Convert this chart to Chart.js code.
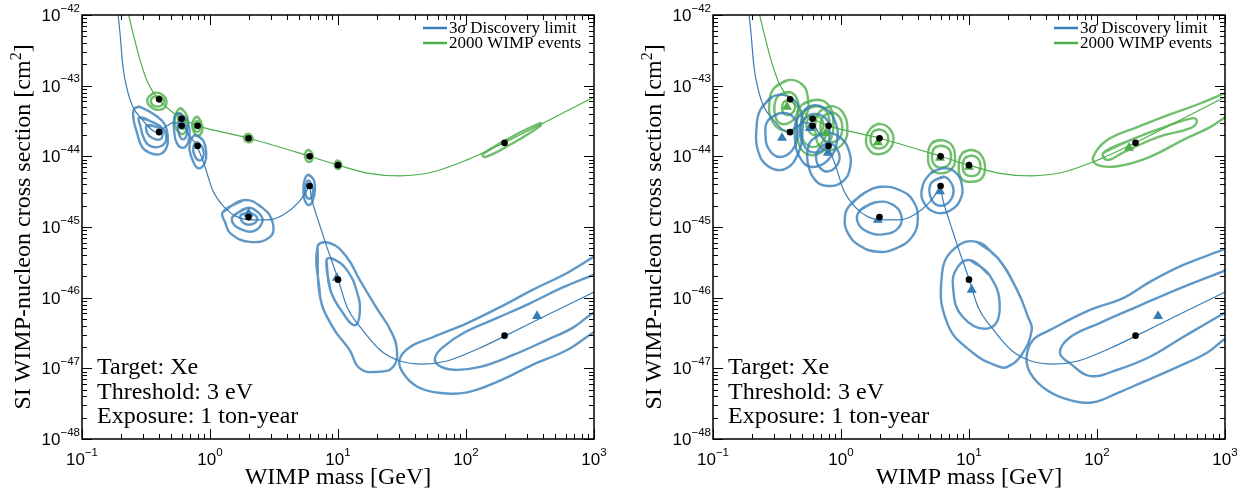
<!DOCTYPE html>
<html>
<head>
<meta charset="utf-8">
<script src="https://cdn.jsdelivr.net/npm/chart.js@4.4.1/dist/chart.umd.min.js"></script>
<style>
  html, body { margin: 0; padding: 0; background: #fff; }
  #wrap { position: relative; width: 1251px; height: 493px; }
  canvas { position: absolute; top: 0; }
</style>
</head>
<body>
<div id="wrap">
  <canvas id="left" width="631" height="493" style="left:0"></canvas>
  <canvas id="right" width="620" height="493" style="left:631px"></canvas>
</div>
<script>
const BLUE = '#377eb8'
const GREEN = '#4daf4a'
const BLUE_C = 'rgba(55, 126, 184, 0.8)'
const GREEN_C = 'rgba(77, 175, 74, 0.8)'

// axis decades
const xTickExps = [-1, 0, 1, 2, 3]
const yTickExps = [-48, -47, -46, -45, -44, -43, -42]

// 3 sigma discovery limit (GeV, cm^2)
const limitMass = [0.18, 0.198, 0.209, 0.229, 0.25, 0.284, 0.386, 0.461, 0.514, 0.604, 0.686, 0.79, 0.914, 1.05, 1.31, 1.63, 2.13, 2.79, 3.72, 4.87, 5.72, 5.95, 6.26, 6.98, 8.2, 10, 11.75, 14.9, 21.3, 30.5, 46, 71, 128, 202, 430, 1000]
const limitSigma = [3e-42, 5.6e-43, 1.84e-43, 7.9e-44, 5.0e-44, 3.6e-44, 2.2e-44, 2.7e-44, 3.0e-44, 2.8e-44, 2.0e-44, 1.4e-44, 7.1e-45, 3.3e-45, 1.86e-45, 1.39e-45, 1.26e-45, 1.26e-45, 1.48e-45, 2.19e-45, 3.3e-45, 3.8e-45, 2.4e-45, 1.26e-45, 5.2e-46, 1.84e-46, 7.4e-47, 3.85e-47, 1.82e-47, 1.27e-47, 1.15e-47, 1.27e-47, 1.94e-47, 2.88e-47, 5.7e-47, 1.2e-46]

// 2000 WIMP events
const eventsMass = [0.2, 0.25, 0.284, 0.328, 0.393, 0.487, 0.604, 0.698, 0.806, 1.98, 5.93, 10, 16.9, 30.5, 55, 102, 198, 379, 1000]
const eventsSigma = [3e-42, 5.6e-43, 2.3e-43, 1.09e-43, 6.5e-44, 4.5e-44, 3.4e-44, 3.0e-44, 2.7e-44, 1.82e-44, 1.01e-44, 7.5e-45, 5.8e-45, 5.3e-45, 6.0e-45, 8.9e-45, 1.55e-44, 2.8e-44, 6.9e-44]

// benchmark points (black dots)
const dotMass = [0.4, 0.6, 0.8, 2, 6, 10, 200]
const limitDotSigma = [2.2e-44, 2.7e-44, 1.4e-44, 1.38e-45, 3.8e-45, 1.8e-46, 2.9e-47]
const eventsDotSigma = [6.4e-44, 3.4e-44, 2.7e-44, 1.8e-44, 1.0e-44, 7.5e-45, 1.55e-44]

// best fit points (triangles)
const leftBlueTriMass = [2.0, 9.8, 359]
const leftBlueTriSigma = [1.55e-45, 1.9e-46, 5.5e-47]
const rightBlueTriMass = [0.346, 0.57, 0.79, 1.94, 5.93, 10.5, 300]
const rightBlueTriSigma = [1.82e-44, 2.5e-44, 1.12e-44, 1.26e-45, 3.2e-45, 1.29e-46, 5.5e-47]
const rightGreenTriMass = [0.378, 0.58, 0.76, 1.94, 5.93, 10, 178]
const rightGreenTriSigma = [5.0e-44, 2.6e-44, 2.14e-44, 1.58e-44, 9.5e-45, 7.1e-45, 1.32e-44]

// contour outlines, vertices as [log10 mass, log10 sigma]
const leftBlueLoops = [
  [[-0.59,-43.32],[-0.55,-43.30],[-0.41,-43.44],[-0.35,-43.56],[-0.33,-43.73],[-0.34,-43.88],[-0.39,-43.97],[-0.47,-43.95],[-0.53,-43.87],[-0.57,-43.67],[-0.60,-43.44]],
  [[-0.55,-43.45],[-0.41,-43.55],[-0.35,-43.66],[-0.35,-43.80],[-0.41,-43.87],[-0.48,-43.84],[-0.52,-43.73],[-0.54,-43.60]],
  [[-0.49,-43.56],[-0.39,-43.60],[-0.37,-43.68],[-0.39,-43.76],[-0.45,-43.74],[-0.49,-43.67]],
  [[-0.25,-43.39],[-0.19,-43.46],[-0.16,-43.63],[-0.17,-43.80],[-0.21,-43.88],[-0.26,-43.81],[-0.28,-43.63],[-0.28,-43.46]],
  [[-0.23,-43.50],[-0.19,-43.56],[-0.18,-43.68],[-0.21,-43.76],[-0.24,-43.70],[-0.25,-43.58]],
  [[-0.11,-43.70],[-0.055,-43.77],[-0.03,-43.94],[-0.04,-44.09],[-0.09,-44.17],[-0.13,-44.08],[-0.16,-43.91],[-0.15,-43.77]],
  [[-0.10,-43.80],[-0.06,-43.87],[-0.05,-43.99],[-0.08,-44.06],[-0.12,-43.99],[-0.13,-43.87]],
  [[0.10,-44.79],[0.26,-44.62],[0.41,-44.73],[0.49,-44.94],[0.47,-45.14],[0.31,-45.21],[0.16,-45.09],[0.12,-44.94]],
  [[0.18,-44.85],[0.29,-44.73],[0.38,-44.80],[0.41,-44.92],[0.34,-45.06],[0.24,-45.03],[0.18,-44.95]],
  [[0.24,-44.83],[0.31,-44.80],[0.37,-44.88],[0.33,-44.96],[0.26,-44.94]],
  [[0.77,-44.26],[0.81,-44.33],[0.82,-44.48],[0.80,-44.64],[0.77,-44.69],[0.74,-44.62],[0.73,-44.48],[0.74,-44.33]],
  [[0.77,-44.34],[0.80,-44.42],[0.80,-44.55],[0.77,-44.60],[0.745,-44.52],[0.75,-44.40]],
  [[0.84,-45.28],[0.86,-45.99],[0.96,-46.42],[1.09,-46.74],[1.17,-47.00],[1.31,-47.05],[1.43,-46.98],[1.46,-46.74],[1.41,-46.46],[1.31,-46.17],[1.17,-45.75],[1.07,-45.43],[0.94,-45.23]],
  [[0.91,-45.47],[0.94,-45.89],[1.04,-46.22],[1.13,-46.39],[1.17,-46.22],[1.15,-45.93],[1.07,-45.61],[0.96,-45.45]]
]
const leftBlueBands = [
  [[3.20,-46.29],[2.99,-46.50],[2.79,-46.74],[2.52,-46.95],[2.27,-47.17],[2.01,-47.34],[1.80,-47.35],[1.62,-47.26],[1.51,-47.07],[1.48,-46.88],[1.56,-46.70],[1.74,-46.56],[2.01,-46.36],[2.27,-46.13],[2.52,-45.89],[2.79,-45.65],[2.99,-45.43],[3.20,-45.20]],
  [[3.20,-46.03],[2.99,-46.22],[2.84,-46.42],[2.63,-46.60],[2.37,-46.81],[2.11,-46.98],[1.90,-47.02],[1.78,-46.95],[1.76,-46.84],[1.82,-46.70],[1.98,-46.50],[2.24,-46.29],[2.50,-46.08],[2.76,-45.85],[2.99,-45.68],[3.20,-45.52]]
]
const leftGreenLoops = [
  [[-0.48,-43.16],[-0.43,-43.10],[-0.37,-43.13],[-0.34,-43.22],[-0.36,-43.32],[-0.42,-43.34],[-0.47,-43.29],[-0.49,-43.22]],
  [[-0.45,-43.17],[-0.40,-43.15],[-0.36,-43.21],[-0.38,-43.28],[-0.43,-43.29],[-0.46,-43.24]],
  [[-0.23,-43.32],[-0.19,-43.39],[-0.17,-43.51],[-0.195,-43.66],[-0.23,-43.68],[-0.27,-43.57],[-0.27,-43.42]],
  [[-0.23,-43.39],[-0.195,-43.49],[-0.21,-43.61],[-0.24,-43.57],[-0.25,-43.44]],
  [[-0.10,-43.44],[-0.07,-43.51],[-0.06,-43.63],[-0.09,-43.71],[-0.12,-43.68],[-0.14,-43.57],[-0.13,-43.49]],
  [[-0.10,-43.50],[-0.075,-43.55],[-0.08,-43.63],[-0.11,-43.65],[-0.125,-43.58]],
  [[0.30,-43.68],[0.33,-43.72],[0.33,-43.78],[0.30,-43.80],[0.27,-43.77],[0.27,-43.71]],
  [[0.77,-43.91],[0.80,-43.96],[0.80,-44.04],[0.77,-44.08],[0.745,-44.03],[0.745,-43.95]],
  [[1.0,-44.06],[1.025,-44.10],[1.02,-44.16],[0.995,-44.18],[0.975,-44.14],[0.98,-44.08]],
  [[2.13,-43.97],[2.30,-43.78],[2.58,-43.53],[2.58,-43.57],[2.34,-43.84],[2.15,-44.01]]
]
const leftGreenBands = []

const rightBlueLoops = [
  [[-0.63,-43.34],[-0.53,-43.15],[-0.40,-43.16],[-0.32,-43.34],[-0.30,-43.63],[-0.34,-43.98],[-0.44,-44.18],[-0.57,-44.14],[-0.65,-43.91],[-0.66,-43.60]],
  [[-0.57,-43.49],[-0.48,-43.39],[-0.375,-43.44],[-0.34,-43.67],[-0.38,-43.91],[-0.48,-44.01],[-0.56,-43.91],[-0.59,-43.70]],
  [[-0.34,-43.46],[-0.24,-43.29],[-0.125,-43.32],[-0.05,-43.49],[-0.03,-43.77],[-0.10,-44.05],[-0.23,-44.15],[-0.32,-44.02],[-0.36,-43.74]],
  [[-0.30,-43.49],[-0.22,-43.40],[-0.12,-43.46],[-0.09,-43.66],[-0.125,-43.88],[-0.23,-43.94],[-0.30,-43.81],[-0.32,-43.63]],
  [[-0.23,-43.77],[-0.125,-43.67],[-0.01,-43.73],[0.06,-43.91],[0.07,-44.17],[0.01,-44.36],[-0.10,-44.42],[-0.20,-44.34],[-0.26,-44.09],[-0.26,-43.91]],
  [[-0.16,-43.87],[-0.09,-43.81],[-0.02,-43.94],[-0.02,-44.09],[-0.09,-44.21],[-0.16,-44.17],[-0.195,-44.01]],
  [[0.07,-44.69],[0.19,-44.51],[0.32,-44.43],[0.46,-44.48],[0.56,-44.62],[0.60,-44.87],[0.555,-45.14],[0.42,-45.31],[0.29,-45.35],[0.15,-45.27],[0.055,-45.09],[0.03,-44.87]],
  [[0.15,-44.76],[0.27,-44.65],[0.40,-44.68],[0.47,-44.83],[0.45,-45.01],[0.34,-45.10],[0.21,-45.07],[0.13,-44.93]],
  [[0.70,-44.24],[0.79,-44.17],[0.89,-44.22],[0.945,-44.41],[0.93,-44.62],[0.85,-44.77],[0.75,-44.80],[0.66,-44.69],[0.63,-44.48]],
  [[0.73,-44.34],[0.81,-44.29],[0.87,-44.41],[0.875,-44.55],[0.82,-44.68],[0.74,-44.68],[0.695,-44.55],[0.695,-44.41]],
  [[1.06,-45.21],[1.22,-45.43],[1.375,-45.89],[1.46,-46.27],[1.49,-46.46],[1.41,-46.81],[1.30,-46.98],[1.24,-46.98],[1.03,-46.78],[0.83,-46.36],[0.79,-45.65],[0.89,-45.30]],
  [[1.01,-45.47],[1.16,-45.68],[1.24,-46.13],[1.16,-46.43],[0.95,-46.27],[0.875,-45.85],[0.91,-45.57]]
]
const rightBlueBands = [
  [[3.2,-45.13],[3.01,-45.30],[2.67,-45.54],[2.41,-45.78],[2.20,-46.01],[1.95,-46.17],[1.63,-46.46],[1.50,-46.60],[1.45,-46.84],[1.48,-47.07],[1.61,-47.31],[1.79,-47.45],[1.97,-47.48],[2.16,-47.35],[2.34,-47.21],[2.63,-46.98],[2.86,-46.78],[3.01,-46.57],[3.2,-46.39]],
  [[3.2,-45.47],[3.01,-45.61],[2.67,-45.85],[2.31,-46.13],[2.02,-46.36],[1.79,-46.56],[1.71,-46.78],[1.79,-46.93],[1.95,-47.11],[2.16,-47.02],[2.41,-46.84],[2.67,-46.56],[3.01,-46.20],[3.2,-46.01]]
]
const rightGreenLoops = [
  [[-0.52,-43.03],[-0.41,-42.92],[-0.305,-42.98],[-0.26,-43.16],[-0.27,-43.42],[-0.35,-43.60],[-0.46,-43.63],[-0.54,-43.49],[-0.56,-43.25]],
  [[-0.48,-43.13],[-0.40,-43.09],[-0.34,-43.20],[-0.34,-43.37],[-0.39,-43.51],[-0.48,-43.53],[-0.52,-43.37],[-0.51,-43.20]],
  [[-0.44,-43.22],[-0.38,-43.22],[-0.36,-43.32],[-0.40,-43.41],[-0.45,-43.39],[-0.46,-43.30]],
  [[-0.305,-43.27],[-0.20,-43.20],[-0.10,-43.27],[-0.06,-43.51],[-0.09,-43.80],[-0.18,-43.97],[-0.29,-43.94],[-0.34,-43.73],[-0.34,-43.44]],
  [[-0.28,-43.35],[-0.20,-43.29],[-0.12,-43.35],[-0.09,-43.52],[-0.12,-43.72],[-0.19,-43.86],[-0.27,-43.83],[-0.31,-43.68],[-0.31,-43.48]],
  [[-0.24,-43.45],[-0.18,-43.43],[-0.14,-43.52],[-0.15,-43.64],[-0.21,-43.70],[-0.26,-43.62],[-0.27,-43.52]],
  [[-0.15,-43.34],[-0.07,-43.29],[0.01,-43.37],[0.05,-43.60],[0.02,-43.81],[-0.07,-43.91],[-0.16,-43.87],[-0.20,-43.66],[-0.19,-43.44]],
  [[-0.13,-43.42],[-0.07,-43.38],[-0.01,-43.45],[0.01,-43.60],[-0.01,-43.74],[-0.07,-43.80],[-0.13,-43.77],[-0.16,-43.62],[-0.155,-43.50]],
  [[0.24,-43.59],[0.30,-43.54],[0.375,-43.60],[0.41,-43.74],[0.38,-43.90],[0.30,-43.97],[0.23,-43.93],[0.195,-43.77]],
  [[0.25,-43.65],[0.30,-43.62],[0.35,-43.66],[0.37,-43.75],[0.35,-43.85],[0.30,-43.89],[0.25,-43.86],[0.23,-43.76]],
  [[0.71,-43.81],[0.78,-43.77],[0.86,-43.83],[0.89,-44.00],[0.87,-44.17],[0.79,-44.24],[0.71,-44.19],[0.68,-44.01]],
  [[0.73,-43.88],[0.78,-43.85],[0.84,-43.89],[0.86,-44.00],[0.84,-44.12],[0.78,-44.16],[0.73,-44.12],[0.71,-44.00]],
  [[0.95,-43.95],[1.02,-43.91],[1.09,-43.97],[1.125,-44.14],[1.10,-44.31],[1.02,-44.36],[0.945,-44.32],[0.92,-44.14]],
  [[0.97,-44.02],[1.02,-43.99],[1.07,-44.03],[1.09,-44.14],[1.07,-44.25],[1.02,-44.28],[0.97,-44.25],[0.95,-44.14]],
  [[2.05,-43.95],[2.26,-43.77],[2.52,-43.59],[2.75,-43.46],[2.78,-43.51],[2.73,-43.60],[2.47,-43.73],[2.20,-43.95],[2.08,-44.05]]
]
const rightGreenBands = [
  [[3.2,-42.98],[3.01,-43.10],[2.78,-43.27],[2.55,-43.42],[2.31,-43.59],[2.08,-43.77],[1.97,-44.01],[2.0,-44.12],[2.16,-44.14],[2.41,-44.01],[2.67,-43.77],[2.88,-43.59],[3.01,-43.44],[3.2,-43.27]]
]

function toPoints(xs, ys) {
  return xs.map((x, i) => ({ x, y: ys[i] }))
}

function fromLog(pairs) {
  return pairs.map(p => ({ x: 10 ** p[0], y: 10 ** p[1] }))
}

function contourSets(loops, bands, color) {
  const sets = []
  loops.forEach(loop => {
    const pts = fromLog(loop)
    sets.push({ data: pts.concat([pts[0], pts[1]]), borderColor: color, borderWidth: 2.4, tension: 0.45, pointRadius: 0, showLine: true, order: 4 })
  })
  bands.forEach(band => {
    sets.push({ data: fromLog(band), borderColor: color, borderWidth: 2.4, tension: 0.4, pointRadius: 0, showLine: true, order: 4 })
  })
  return sets
}

function curveSet(xs, ys, color) {
  return { data: toPoints(xs, ys), borderColor: color, borderWidth: 1.2, cubicInterpolationMode: 'monotone', pointRadius: 0, showLine: true, order: 3 }
}

function triSet(xs, ys, color) {
  return { data: toPoints(xs, ys), pointStyle: 'triangle', pointRadius: 5.8, backgroundColor: color, borderWidth: 0, showLine: false, order: 2 }
}

function dotSet(xs, ys) {
  return { data: toPoints(xs, ys), pointRadius: 3.3, backgroundColor: '#000', borderWidth: 0, showLine: false, order: 1 }
}

// "10" with a raised exponent
function powLabel(ctx, exp, x, base, mode) {
  const sup = exp < 0 ? '\u2212' + (-exp) : String(exp)
  ctx.font = '17px "Liberation Sans", Arial, sans-serif'
  const w1 = ctx.measureText('10').width
  ctx.font = '11.5px "Liberation Sans", Arial, sans-serif'
  const w2 = ctx.measureText(sup).width
  const start = mode === 'center' ? x - (w1 + w2) / 2 : x - w1 - w2
  ctx.textAlign = 'left'
  ctx.textBaseline = 'alphabetic'
  ctx.font = '17px "Liberation Sans", Arial, sans-serif'
  ctx.fillText('10', start, base)
  ctx.font = '11.5px "Liberation Sans", Arial, sans-serif'
  ctx.fillText(sup, start + w1, base - 9.5)
}

const SERIF = '"Liberation Serif", "Times New Roman", serif'

const frame = {
  id: 'frame',
  afterDraw(chart) {
    const { ctx, chartArea: a, scales: { x, y } } = chart
    ctx.save()
    ctx.strokeStyle = '#000'
    ctx.fillStyle = '#000'
    ctx.lineWidth = 1
    ctx.beginPath()
    const xLast = xTickExps[xTickExps.length - 1]
    for (let e = xTickExps[0]; e <= xLast; e++) {
      for (let k = 1; k < 10; k++) {
        if (e === xLast && k > 1) break
        const px = Math.round(x.getPixelForValue(k * 10 ** e)) + 0.5
        const len = k === 1 ? 10 : 5
        ctx.moveTo(px, a.bottom); ctx.lineTo(px, a.bottom - len)
        ctx.moveTo(px, a.top); ctx.lineTo(px, a.top + len)
      }
    }
    const yLast = yTickExps[yTickExps.length - 1]
    for (let e = yTickExps[0]; e <= yLast; e++) {
      for (let k = 1; k < 10; k++) {
        if (e === yLast && k > 1) break
        const py = Math.round(y.getPixelForValue(k * 10 ** e)) + 0.5
        const len = k === 1 ? 10 : 5
        ctx.moveTo(a.left, py); ctx.lineTo(a.left + len, py)
        ctx.moveTo(a.right, py); ctx.lineTo(a.right - len, py)
      }
    }
    ctx.stroke()
    ctx.lineWidth = 1.5
    ctx.strokeRect(a.left, a.top, a.right - a.left, a.bottom - a.top)

    // tick labels
    xTickExps.forEach(e => powLabel(ctx, e, x.getPixelForValue(10 ** e), a.bottom + 26, 'center'))
    yTickExps.forEach(e => powLabel(ctx, e, a.left - 2, y.getPixelForValue(10 ** e) + 6, 'right'))

    // axis titles
    ctx.font = '24px ' + SERIF
    ctx.textAlign = 'center'
    ctx.textBaseline = 'alphabetic'
    ctx.fillText('WIMP mass [GeV]', (a.left + a.right) / 2, a.bottom + 45)

    ctx.save()
    ctx.translate(a.left - 52, (a.top + a.bottom) / 2)
    ctx.rotate(-Math.PI / 2)
    const t1 = 'SI WIMP-nucleon cross section [cm'
    ctx.font = '24px ' + SERIF
    const w1 = ctx.measureText(t1).width
    const w3 = ctx.measureText(']').width
    ctx.font = '16px ' + SERIF
    const w2 = ctx.measureText('2').width
    let sx = -(w1 + w2 + w3) / 2
    ctx.textAlign = 'left'
    ctx.font = '24px ' + SERIF
    ctx.fillText(t1, sx, 0)
    ctx.font = '16px ' + SERIF
    ctx.fillText('2', sx + w1, -9)
    ctx.font = '24px ' + SERIF
    ctx.fillText(']', sx + w1 + w2, 0)
    ctx.restore()

    // annotation
    ctx.font = '24px ' + SERIF
    ctx.textAlign = 'left'
    ctx.fillText('Target: Xe', a.left + 15, a.bottom - 65)
    ctx.fillText('Threshold: 3 eV', a.left + 15, a.bottom - 40)
    ctx.fillText('Exposure: 1 ton-year', a.left + 15, a.bottom - 16)

    // legend
    const lx = a.right - 171
    const rows = [[BLUE, ['3', '\u03c3', ' Discovery limit']], [GREEN, ['2000 WIMP events']]]
    rows.forEach((row, i) => {
      const ly = a.top + 13 + i * 15
      ctx.strokeStyle = row[0]
      ctx.lineWidth = 2.5
      ctx.beginPath()
      ctx.moveTo(lx, ly); ctx.lineTo(lx + 24, ly)
      ctx.stroke()
      let tx = lx + 26
      ctx.textBaseline = 'middle'
      row[1].forEach(part => {
        ctx.font = (part === '\u03c3' ? 'italic ' : '') + '17px ' + SERIF
        ctx.fillText(part, tx, ly + 1)
        tx += ctx.measureText(part).width
      })
    })
    ctx.restore()
  }
}

function makePanel(id, padRight, datasets) {
  return new Chart(document.getElementById(id), {
    type: 'scatter',
    data: { datasets },
    options: {
      responsive: false,
      animation: false,
      layout: { padding: { left: 82, right: padRight, top: 15, bottom: 54 } },
      elements: { line: { capBezierPoints: false }, point: { hoverRadius: 0 } },
      datasets: { scatter: { clip: 0 } },
      plugins: { legend: { display: false }, tooltip: { enabled: false } },
      events: [],
      scales: {
        x: { type: 'logarithmic', min: 0.1, max: 1000, display: false },
        y: { type: 'logarithmic', min: 1e-48, max: 1e-42, display: false }
      }
    },
    plugins: [frame]
  })
}

makePanel('left', 37, [
  ...contourSets(leftBlueLoops, leftBlueBands, BLUE_C),
  ...contourSets(leftGreenLoops, leftGreenBands, GREEN_C),
  curveSet(limitMass, limitSigma, BLUE),
  curveSet(eventsMass, eventsSigma, GREEN),
  triSet(leftBlueTriMass, leftBlueTriSigma, BLUE),
  dotSet(dotMass, limitDotSigma),
  dotSet(dotMass, eventsDotSigma)
])

makePanel('right', 26, [
  ...contourSets(rightBlueLoops, rightBlueBands, BLUE_C),
  ...contourSets(rightGreenLoops, rightGreenBands, GREEN_C),
  curveSet(limitMass, limitSigma, BLUE),
  curveSet(eventsMass, eventsSigma, GREEN),
  triSet(rightBlueTriMass, rightBlueTriSigma, BLUE),
  triSet(rightGreenTriMass, rightGreenTriSigma, GREEN),
  dotSet(dotMass, limitDotSigma),
  dotSet(dotMass, eventsDotSigma)
])
</script>
</body>
</html>
